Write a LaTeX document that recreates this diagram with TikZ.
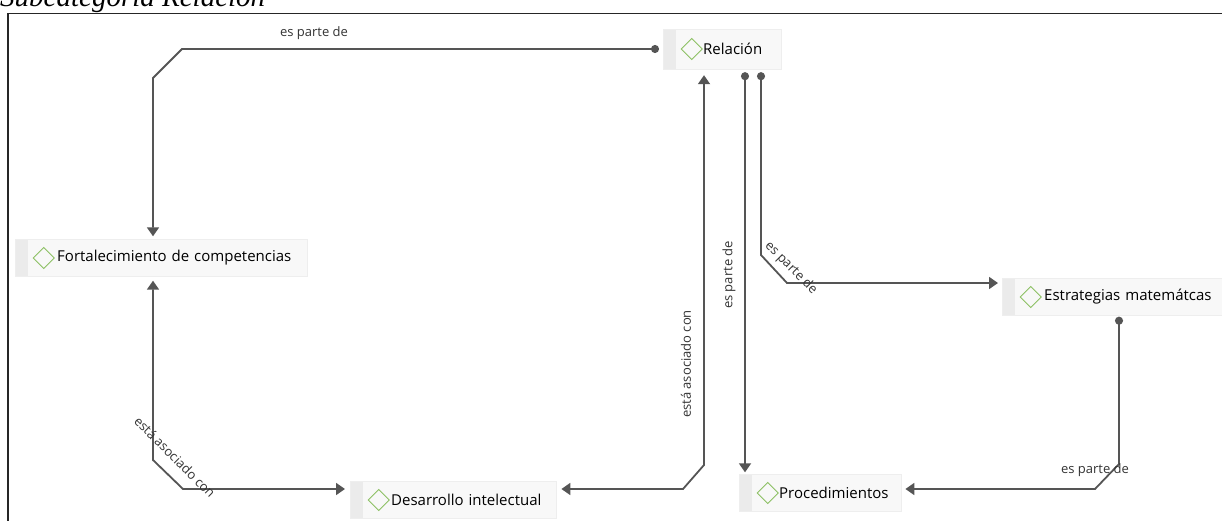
\documentclass[tikz,border=0pt]{standalone}
\usepackage{fontspec}
\setmainfont{Liberation Serif}
\newfontfamily\uifont{Open Sans}
\usetikzlibrary{arrows.meta}

\definecolor{linkgray}{HTML}{555555}
\definecolor{boxfill}{HTML}{F8F8F8}
\definecolor{boxedge}{HTML}{EEEEEE}
\definecolor{stripefill}{HTML}{EBEBEB}
\definecolor{codegreen}{HTML}{8CC063}
\definecolor{labelgray}{HTML}{333333}

\tikzset{
  concept/.style={rectangle, fill=boxfill, draw=boxedge, inner xsep=0pt, inner ysep=0pt,
    minimum height=37pt, text width=#1, align=left, anchor=west,
    font=\uifont\fontsize{15}{18}\selectfont, text=black,
    path picture={
      \fill[stripefill] (path picture bounding box.south west)
        rectangle ([xshift=13pt]path picture bounding box.north west);
      \draw[codegreen, line width=0.9pt] ([xshift=18pt]path picture bounding box.west)
        -- ++(10.5pt,10.5pt) -- ++(10.5pt,-10.5pt) -- ++(-10.5pt,-10.5pt) -- cycle;
    }},
  link/.style={draw=linkgray, line width=1.8pt, line join=miter},
  tipend/.style={-{Triangle[width=12pt,length=9pt]}},
  tipboth/.style={{Triangle[width=12pt,length=9pt]}-{Triangle[width=12pt,length=9pt]}},
  dotstart/.style={{Circle[length=8pt]}-{Triangle[width=12pt,length=9pt]}},
  lbl/.style={font=\uifont\fontsize{13}{15}\selectfont, text=labelgray, inner sep=1pt},
  frameline/.style={draw=black!85, line width=1.6pt}
}

\begin{document}
\begin{tikzpicture}[x=1pt, y=-1pt]
  \useasboundingbox (0,0) rectangle (1222,521);

  % heading and frame
  \node[anchor=base west, inner sep=0pt, font=\itshape\fontsize{29}{34}\selectfont] (title)
    at (0,6.5) {Subcategoría Relación};
  \draw[frameline] (8,540) -- (8,13.5) -- (1240,13.5);

  % codes
  \node[concept=118pt, minimum height=40pt] (rel)  at (663,49)  {\hspace*{40pt}Relación};
  \node[concept=292pt] (fort) at (15,258)  {\hspace*{42pt}Fortalecimiento de competencias};
  \node[concept=206pt] (des)  at (350,500) {\hspace*{41pt}Desarrollo intelectual};
  \node[concept=162pt] (proc) at (739,493) {\hspace*{40pt}Procedimientos};
  \node[concept=222pt] (estr) at (1002,297) {\hspace*{42pt}Estrategias matemátcas};

  % bend points of the links
  \coordinate (k1)  at (182,49);
  \coordinate (k2)  at (153,78);
  \coordinate (k3)  at (153,460);
  \coordinate (k4)  at (183,489);
  \coordinate (k5)  at (683,489);
  \coordinate (k6)  at (704,465);
  \coordinate (k7)  at (745,77);
  \coordinate (k8)  at (761,77);
  \coordinate (k9)  at (761,255);
  \coordinate (k10) at (787,283);
  \coordinate (k11) at (1119,320);
  \coordinate (k12) at (1119,464);
  \coordinate (k13) at (1095,489);

  % links
  \draw[link, dotstart, shorten >=3pt] ([xshift=-4pt]rel.west) -- (k1) -- (k2) -- (k2 |- fort.north);
  \draw[link, tipboth, shorten <=4pt, shorten >=5pt] (k3 |- fort.south) -- (k3) -- (k4) -- (k4 -| des.west);
  \draw[link, tipboth, shorten <=5pt, shorten >=6pt] (k5 -| des.east) -- (k5) -- (k6) -- (k6 |- rel.south);
  \draw[link, dotstart, shorten <=3pt, shorten >=2pt] (k7 |- rel.south) -- (k7 |- proc.north);
  \draw[link, dotstart, shorten <=3pt, shorten >=4pt] (k8 |- rel.south) -- (k9) -- (k10) -- (k10 -| estr.west);
  \draw[link, dotstart, shorten <=1pt, shorten >=4pt] (k11 |- estr.south) -- (k12) -- (k13) -- (k13 -| proc.east);

  % link labels
  \node[lbl] (l1) at (314,33) {es parte de};
  \node[lbl, rotate=-45] (l2) at (175,457) {está asociado con};
  \node[lbl, rotate=90] (l3) at (686,364) {está asociado con};
  \node[lbl, rotate=90] (l4) at (729,275) {es parte de};
  \node[lbl, rotate=-45] (l5) at (791,268) {es parte de};
  \node[lbl] (l6) at (1095,470) {es parte de};
\end{tikzpicture}
\end{document}
